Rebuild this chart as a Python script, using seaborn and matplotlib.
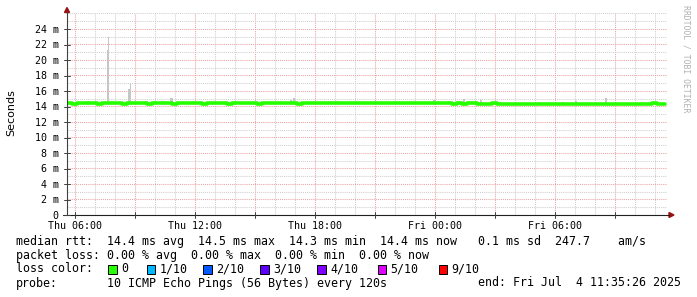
import numpy as np
import pandas as pd
import matplotlib
matplotlib.use("Agg")
import matplotlib.pyplot as plt
import matplotlib.dates as mdates
from matplotlib.patches import Rectangle, Polygon
from matplotlib.lines import Line2D
from matplotlib.ticker import FixedLocator, MultipleLocator
import seaborn as sns

# ---------------- data ----------------
start = "2025-07-03 05:35:26"
end = "2025-07-04 11:35:26"
data_end = "2025-07-04 11:30:00"

# median rtt (ms), one value every 15 minutes from start
median_ms = [
    14.40, 14.35, 14.40, 14.40, 14.45, 14.40, 14.35, 14.40, 14.45, 14.40, 14.40, 14.35,
    14.40, 14.45, 14.40, 14.40, 14.35, 14.40, 14.40, 14.45, 14.40, 14.35, 14.40, 14.40,
    14.40, 14.45, 14.40, 14.35, 14.40, 14.45, 14.40, 14.40, 14.35, 14.45, 14.40, 14.40,
    14.45, 14.40, 14.35, 14.40, 14.45, 14.45, 14.40, 14.40, 14.45, 14.40, 14.35, 14.40,
    14.45, 14.45, 14.40, 14.45, 14.50, 14.45, 14.45, 14.50, 14.45, 14.40, 14.45, 14.50,
    14.50, 14.45, 14.45, 14.50, 14.45, 14.50, 14.50, 14.45, 14.50, 14.45, 14.45, 14.50,
    14.45, 14.45, 14.40, 14.45, 14.40, 14.35, 14.40, 14.35, 14.40, 14.40, 14.35, 14.30,
    14.35, 14.40, 14.35, 14.35, 14.30, 14.35, 14.35, 14.30, 14.35, 14.35, 14.30, 14.35,
    14.35, 14.30, 14.35, 14.30, 14.35, 14.35, 14.30, 14.35, 14.30, 14.35, 14.35, 14.30,
    14.30, 14.35, 14.35, 14.30, 14.35, 14.35, 14.30, 14.35, 14.35, 14.40, 14.35, 14.35,
]

# smoke (ping spread) visible above the median
smoke_times = [
    "2025-07-03 05:47", "2025-07-03 06:35", "2025-07-03 07:35", "2025-07-03 07:38",
    "2025-07-03 08:37", "2025-07-03 08:43", "2025-07-03 10:43", "2025-07-03 10:59",
    "2025-07-03 13:35", "2025-07-03 16:44", "2025-07-03 16:52", "2025-07-03 19:05",
    "2025-07-03 23:53", "2025-07-04 01:22", "2025-07-04 02:14", "2025-07-04 05:08",
    "2025-07-04 06:20", "2025-07-04 06:59", "2025-07-04 08:29",
]
smoke_minutes = [6, 6, 6, 3, 6, 3, 9, 6, 6, 6, 6, 6, 6, 6, 6, 6, 6, 6, 6]
smoke_tops_ms = [14.6, 14.7, 21.3, 23.0, 16.3, 17.0, 15.1, 14.6, 14.6, 14.9, 15.1, 14.7,
                 14.8, 15.0, 14.8, 14.6, 14.6, 14.7, 15.1]

ytick_values = [0, 2, 4, 6, 8, 10, 12, 14, 16, 18, 20, 22, 24]
ytick_labels = ["0", "2 m", "4 m", "6 m", "8 m", "10 m", "12 m", "14 m", "16 m",
                "18 m", "20 m", "22 m", "24 m"]
xtick_times = ["2025-07-03 06:00", "2025-07-03 12:00", "2025-07-03 18:00",
               "2025-07-04 00:00", "2025-07-04 06:00"]
xtick_labels = ["Thu 06:00", "Thu 12:00", "Thu 18:00", "Fri 00:00", "Fri 06:00"]

legend_rtt = "median rtt:  14.4 ms avg  14.5 ms max  14.3 ms min  14.4 ms now   0.1 ms sd  247.7    am/s"
legend_loss = "packet loss: 0.00 % avg  0.00 % max  0.00 % min  0.00 % now"
loss_labels = ["0", "1/10", "2/10", "3/10", "4/10", "5/10", "9/10"]
loss_colors = ["#26ff00", "#00b8ff", "#0059ff", "#5e00ff", "#7e00ff", "#dd00ff", "#ff0000"]
probe_text = "10 ICMP Echo Pings (56 Bytes) every 120s"
end_text = "end: Fri Jul  4 11:35:26 2025"

# ---------------- figure ----------------
sns.set_style("white")
W, H = 697, 297
fig = plt.figure(figsize=(W / 100, H / 100), dpi=100, facecolor="white")


def fx(x):
    return x / W


def fy(y):
    return 1 - y / H


ax = fig.add_axes([fx(67), fy(215), 600 / W, 202 / H])
ax.set_facecolor("white")

times = pd.date_range(start=pd.Timestamp(start).floor("min"), periods=len(median_ms), freq="15min")
df = pd.DataFrame({"time": list(times) + [pd.Timestamp(data_end)],
                   "median": median_ms + [median_ms[-1]]})

# smoke bars
st = [mdates.date2num(pd.Timestamp(t)) for t in smoke_times]
sw = [m / 1440 for m in smoke_minutes]
ax.bar(st, [t - 14.2 for t in smoke_tops_ms], width=sw, bottom=14.2, align="edge",
       color="#c6c6c6", linewidth=0, zorder=2)

sns.lineplot(data=df, x="time", y="median", drawstyle="steps-post", color="#26ff00",
             linewidth=2.6, ax=ax, zorder=3, legend=False)

ax.set_xlim(mdates.date2num(pd.Timestamp(start)), mdates.date2num(pd.Timestamp(end)))
ax.set_ylim(0, 26.06)

# grid
maj_x = pd.date_range("2025-07-03 06:00", "2025-07-04 09:00", freq="3h")
min_x = pd.date_range("2025-07-03 06:00", "2025-07-04 11:00", freq="1h")
ax.xaxis.set_major_locator(FixedLocator([mdates.date2num(t) for t in maj_x]))
ax.xaxis.set_minor_locator(FixedLocator([mdates.date2num(t) for t in min_x]))
lab = {mdates.date2num(pd.Timestamp(t)): l for t, l in zip(xtick_times, xtick_labels)}
ax.set_xticklabels([lab.get(mdates.date2num(t), "") for t in maj_x])
ax.yaxis.set_major_locator(FixedLocator(ytick_values))
ax.set_yticklabels(ytick_labels)
ax.yaxis.set_minor_locator(MultipleLocator(1))

dot = (0, (1, 1))
ax.grid(which="major", color="#eba3a3", linestyle=dot, linewidth=0.75)
ax.grid(which="minor", color="#cfcfcf", linestyle=dot, linewidth=0.75)
ax.set_axisbelow(True)
for s in ax.spines.values():
    s.set_visible(False)

ax.tick_params(axis="both", which="both", length=0)
ax.tick_params(axis="x", pad=4)
ax.tick_params(axis="y", pad=6)
for t in ax.get_xticklabels() + ax.get_yticklabels():
    t.set_family("DejaVu Sans Mono")
    t.set_fontsize(7.2)
    t.set_color("black")
ax.set_xlabel("")
ax.set_ylabel("")

# axis lines and arrows
fig.add_artist(Line2D([fx(67), fx(67)], [fy(215), fy(12)], color="#404040", lw=0.8))
fig.add_artist(Line2D([fx(63), fx(669)], [fy(215), fy(215)], color="#202020", lw=0.8))
fig.add_artist(Polygon([(fx(64.5), fy(12.5)), (fx(69.5), fy(12.5)), (fx(67), fy(7.5))],
                       closed=True, color="#9a1010"))
fig.add_artist(Polygon([(fx(669), fy(212.5)), (fx(669), fy(217.5)), (fx(674), fy(215))],
                       closed=True, color="#9a1010"))

# small ticks on the axes
for v in ytick_values:
    yy = 215 - v * 7.75
    fig.add_artist(Line2D([fx(64), fx(70)], [fy(yy), fy(yy)], color="#404040", lw=0.7))
for t in maj_x:
    xx = 67 + (mdates.date2num(t) - mdates.date2num(pd.Timestamp(start))) * 24 * 20
    fig.add_artist(Line2D([fx(xx), fx(xx)], [fy(212), fy(218)], color="#404040", lw=0.7))

# labels
fig.text(fx(11), fy(113), "Seconds", rotation=90, ha="center", va="center",
         family="DejaVu Sans", fontsize=8, color="black")
fig.text(fx(686), fy(59), "RRDTOOL / TOBI OETIKER", rotation=270, ha="center", va="center",
         family="DejaVu Sans Mono", fontsize=5.9, color="#b0b0b0")

mono = dict(family="DejaVu Sans Mono", fontsize=8.35, color="black", va="center", ha="left")
fig.text(fx(16), fy(241), legend_rtt, **mono)
fig.text(fx(16), fy(255), legend_loss, **mono)
fig.text(fx(16), fy(269), "loss color:", **mono)
box_x = [108, 146.5, 203, 260, 317, 377.5, 438.5]
for bx, lbl, col in zip(box_x, loss_labels, loss_colors):
    fig.add_artist(Rectangle((fx(bx), fy(273.5)), 8.5 / W, 8.5 / H, facecolor=col,
                             edgecolor="black", linewidth=0.7))
    fig.text(fx(bx + 13), fy(269), lbl, **mono)
fig.text(fx(16), fy(283), "probe:", **mono)
fig.text(fx(107), fy(283), probe_text, **mono)
fig.text(fx(478), fy(283), end_text, **mono)

fig.savefig("out.png", dpi=100, facecolor="white")
